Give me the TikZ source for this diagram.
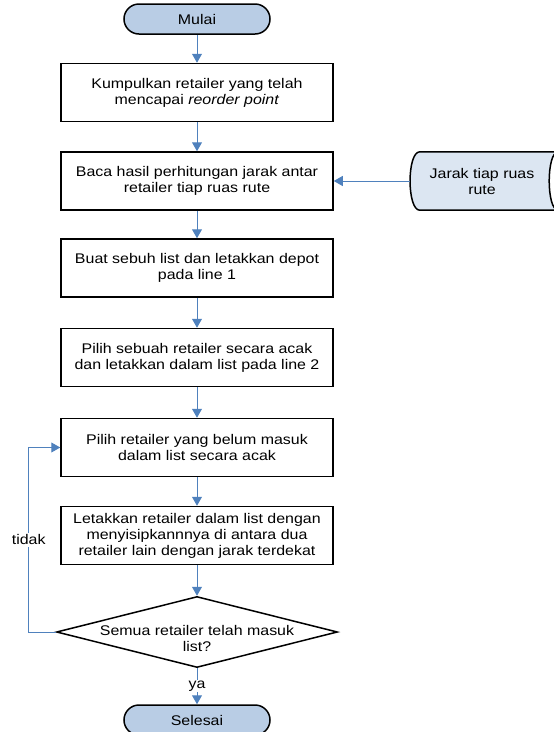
\documentclass[tikz,border=0pt]{standalone}
\usepackage{fontspec}
\setmainfont[FakeStretch=1.14]{Liberation Sans}
\usetikzlibrary{arrows.meta,shapes.geometric,backgrounds}

\definecolor{garisbiru}{RGB}{79,129,189}
\definecolor{isiterminal}{RGB}{185,205,229}
\definecolor{isidata}{RGB}{220,230,242}

\tikzset{
  proses/.style={draw, line width=1.5pt, rectangle, minimum width=272pt, minimum height=58pt, align=center},
  terminal/.style={draw, line width=1.5pt, rectangle, rounded corners=15pt, fill=isiterminal, minimum width=146pt, minimum height=30pt},
  keputusan/.style={draw, line width=1.5pt, diamond, aspect=4, minimum width=281pt, minimum height=71pt, inner xsep=-50pt, inner ysep=0pt, text height=39pt, align=center},
  alur/.style={->, >={Triangle[width=10pt,length=9pt]}, draw=garisbiru, line width=1pt}
}

\begin{document}
\begin{tikzpicture}[x=1pt, y=-1pt, font=\fontsize{14}{16}\selectfont]
\useasboundingbox (0,0) rectangle (554,732);

\node[terminal] at (197,19) (mulai) {Mulai};
\node[proses] at (197,92.5) (kumpul) {Kumpulkan retailer yang telah\\mencapai \textit{reorder point}};
\node[proses] at (197,181) (baca) {Baca hasil perhitungan jarak antar\\retailer tiap ruas rute};
\node[proses] at (197,268) (buat) {Buat sebuh list dan letakkan depot\\pada line 1};
\node[proses] at (197,357.5) (acak) {Pilih sebuah retailer secara acak\\dan letakkan dalam list pada line 2};
\node[proses] at (197,447.5) (pilih) {Pilih retailer yang belum masuk\\dalam list secara acak};
\node[proses] at (197,535.5) (sisip) {Letakkan retailer dalam list dengan\\menyisipkannnya di antara dua\\retailer lain dengan jarak terdekat};
\node[keputusan] at (197,632) (cek) {Semua retailer telah masuk\\list?};
\node[terminal] at (197,720) (selesai) {Selesai};

% data jarak (stored data)
\node[minimum width=144pt, minimum height=58pt, align=center] at (482,181) (jarak) {Jarak tiap ruas\\rute};
\begin{scope}[on background layer]
\draw[line width=1.5pt, fill=isidata]
  ([xshift=10pt]jarak.north west) -- ([xshift=4pt]jarak.north east)
  .. controls ([xshift=-8pt]jarak.north east) and ([xshift=-8pt]jarak.south east) .. ([xshift=4pt]jarak.south east)
  -- ([xshift=10pt]jarak.south west)
  .. controls ([xshift=-3pt]jarak.south west) and ([xshift=-3pt]jarak.north west) .. cycle;
\end{scope}

\draw[alur] (mulai) -- (kumpul);
\draw[alur] (kumpul) -- (baca);
\draw[alur] (jarak.west) -- (baca.east);
\draw[alur] (baca) -- (buat);
\draw[alur] (buat) -- (acak);
\draw[alur] (acak) -- (pilih);
\draw[alur] (pilih) -- (sisip);
\draw[alur] (sisip) -- (cek);
\draw[alur] (cek.west) -- ++(-27,0) |- node[pos=0.25, fill=white, inner sep=2pt] {tidak} (pilih.west);
\draw[alur] (cek.south) -- node[fill=white, inner sep=1pt] {ya} (selesai.north);

\end{tikzpicture}
\end{document}
